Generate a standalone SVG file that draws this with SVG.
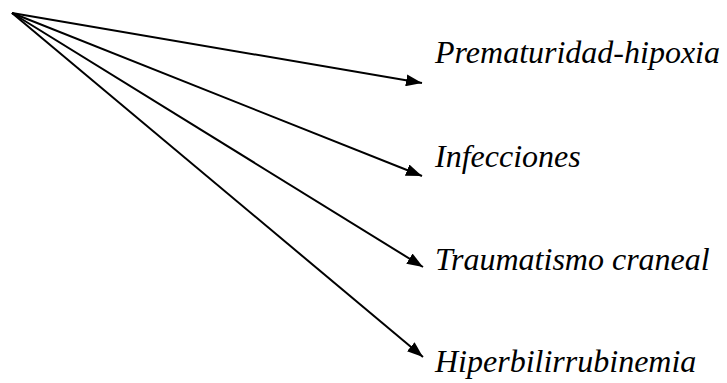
<svg xmlns="http://www.w3.org/2000/svg" width="727" height="383" viewBox="0 0 727 383">
<style>
.lbl{font-family:"Liberation Serif","Times New Roman",serif;font-style:italic;font-size:32px;fill:#000}
.c{stroke:#000;stroke-width:2;fill:none}
</style>
<defs>
<marker id="ah" markerWidth="16" markerHeight="12" refX="16" refY="6" orient="auto" markerUnits="userSpaceOnUse">
<path d="M0,0 L16,6 L0,12 Z" fill="#000"/>
</marker>
</defs>
<rect width="727" height="383" fill="#fff"/>
<g id="connectors">
<line class="c" x1="12" y1="13" x2="422" y2="83" marker-end="url(#ah)"/>
<line class="c" x1="12" y1="13" x2="422" y2="176" marker-end="url(#ah)"/>
<line class="c" x1="12" y1="13" x2="423" y2="267" marker-end="url(#ah)"/>
<line class="c" x1="12" y1="13" x2="423" y2="357" marker-end="url(#ah)"/>
</g>
<g id="n1"><text class="lbl" x="435" y="63">Prematuridad-hipoxia</text></g>
<g id="n2"><text class="lbl" x="435" y="167">Infecciones</text></g>
<g id="n3"><text class="lbl" x="435" y="270">Traumatismo craneal</text></g>
<g id="n4"><text class="lbl" x="435" y="372">Hiperbilirrubinemia</text></g>
</svg>
